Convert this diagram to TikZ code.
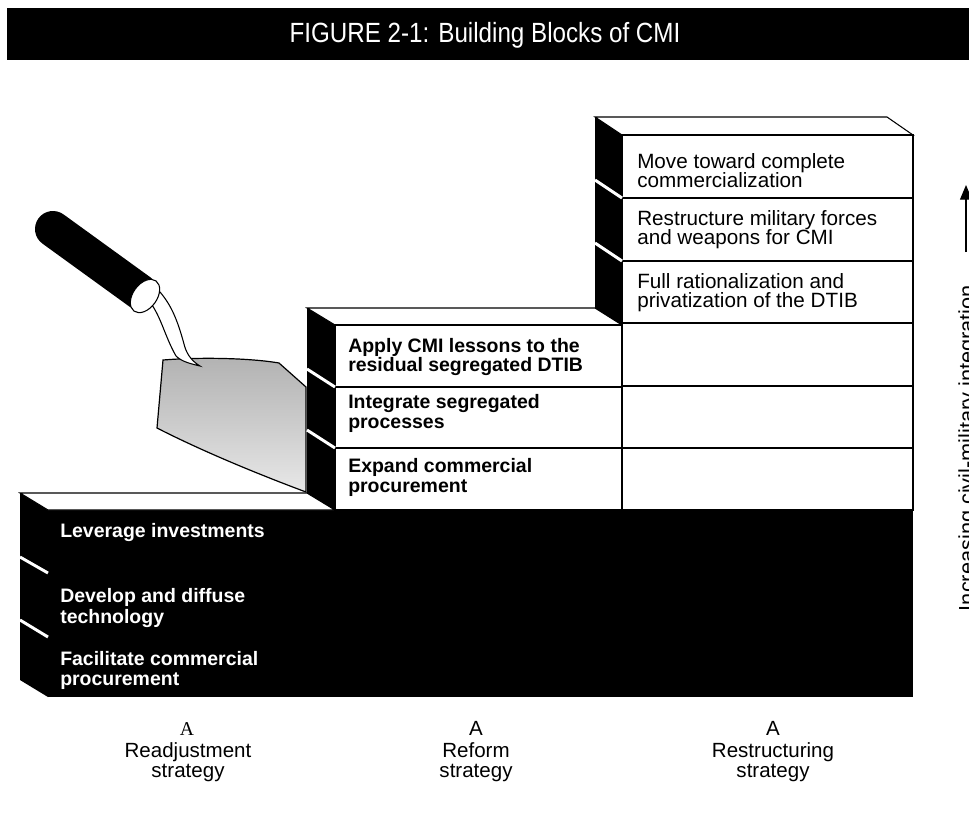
\documentclass[tikz,border=0pt]{standalone}
\usepackage{fontspec}
\setmainfont{Liberation Sans}
\newfontfamily\titlefnt{Liberation Sans}[FakeStretch=0.87]
\newfontfamily\seriffnt{Liberation Serif}
\usetikzlibrary{arrows.meta,shapes.geometric}
\begin{document}
\begin{tikzpicture}[x=0.75pt,y=-0.75pt,
  txt/.style={anchor=base west, inner sep=0pt},
  ctr/.style={anchor=base, inner sep=0pt},
  edge/.style={draw=black, line width=0.8pt},
  notch/.style={draw=white, line width=2.2pt},
  wtxt/.style={txt, text=white, font=\fontsize{14.6pt}{16pt}\selectfont\bfseries},
  btxt/.style={txt, font=\fontsize{14.6pt}{16pt}\selectfont\bfseries},
  rtxt/.style={txt, font=\fontsize{15.5pt}{17pt}\selectfont},
  lbl/.style={ctr, font=\fontsize{15.4pt}{17pt}\selectfont},
]
\useasboundingbox (0,0) rectangle (969,826);
\fill[white] (0,0) rectangle (969,826);

% title bar
\fill[black] (7,8) rectangle (969,60);
\node[ctr, text=white, font=\titlefnt\fontsize{20.85pt}{22pt}\selectfont] (title) at (485,42) {FIGURE 2-1: Building Blocks of CMI};

% left (readjustment) block
\fill[black] (48,510) rectangle (913,697);
\fill[black] (20,493) -- (48,510) -- (48,697) -- (20,680) -- cycle;
\filldraw[fill=white, edge] (20,493) -- (307,493) -- (335,510) -- (48,510) -- cycle;
\draw[notch] (20,557) -- (48,573);
\draw[notch] (20,620) -- (48,637);

% trowel
\coordinate (handleA) at (53,229);
\coordinate (handleB) at (140,292);
\draw[line width=27pt, line cap=round, black] (handleA) -- (handleB);
\shadedraw[top color=gray!60, bottom color=gray!18, middle color=gray!40, draw=black, line width=0.9pt]
  (163,360) .. controls (200,357) and (250,358) .. (279,363) -- (306,387) -- (306,492)
  .. controls (255,473) and (200,450) .. (157,428) -- cycle;
\filldraw[fill=white, edge] (147,299) .. controls (160,312) and (164,335) .. (176,356)
  .. controls (182,362) and (192,364) .. (200,366)
  .. controls (190,360) and (186,352) .. (184,344)
  .. controls (178,322) and (172,306) .. (160,292) -- cycle;
\node[ellipse, draw=black, fill=white, line width=0.8pt, minimum width=18pt,
  minimum height=28pt, inner sep=0pt, rotate=-36] (ferrule) at (145,296) {};

% middle (reform) block
\fill[black] (307,308) -- (335,325) -- (335,510) -- (307,493) -- cycle;
\filldraw[fill=white, edge] (307,308) -- (595,308) -- (622,325) -- (335,325) -- cycle;
\filldraw[fill=white, edge] (335,325) rectangle (622,510);
\draw[edge] (335,387) -- (622,387);
\draw[edge] (335,448) -- (622,448);
\draw[notch] (307,369) -- (335,387);
\draw[notch] (307,430) -- (335,448);

% right (restructuring) block
\fill[black] (595,117) -- (622,135) -- (622,325) -- (595,308) -- cycle;
\filldraw[fill=white, edge] (595,117) -- (887,117) -- (913,135) -- (622,135) -- cycle;
\filldraw[fill=white, edge] (622,135) rectangle (913,510);
\foreach \yy in {198,261,323,386,448} \draw[edge] (622,\yy) -- (913,\yy);
\draw[notch] (595,180) -- (622,198);
\draw[notch] (595,243) -- (622,261);

% texts of the left block
\node[wtxt] (l1) at (60,537) {Leverage investments};
\node[wtxt] (l2a) at (60,602) {Develop and diffuse};
\node[wtxt] (l2b) at (60,623) {technology};
\node[wtxt] (l3a) at (60,665) {Facilitate commercial};
\node[wtxt] (l3b) at (60,685) {procurement};

% texts of the middle block
\node[btxt] (m1a) at (348,352) {Apply CMI lessons to the};
\node[btxt] (m1b) at (348,371) {residual segregated DTIB};
\node[btxt] (m2a) at (348,408) {Integrate segregated};
\node[btxt] (m2b) at (348,428) {processes};
\node[btxt] (m3a) at (348,472) {Expand commercial};
\node[btxt] (m3b) at (348,492) {procurement};

% texts of the right block
\node[rtxt] (r1a) at (637,168) {Move toward complete};
\node[rtxt] (r1b) at (637,187) {commercialization};
\node[rtxt] (r2a) at (637,225) {Restructure military forces};
\node[rtxt] (r2b) at (637,244) {and weapons for CMI};
\node[rtxt] (r3a) at (637,288) {Full rationalization and};
\node[rtxt] (r3b) at (637,307) {privatization of the DTIB};

% axis arrow
\coordinate (arrS) at (966,252);
\coordinate (arrE) at (966,185);
\draw[line width=0.8pt, -{Triangle[length=11pt,width=9pt]}] (arrS) -- (arrE);
\node[rotate=90, anchor=north, inner sep=0pt, font=\fontsize{16.3pt}{18pt}\selectfont] (axis) at (958,448) {Increasing civil-military integration};

% strategy labels
\node[ctr, font=\seriffnt\fontsize{14.7pt}{16pt}\selectfont] (a1) at (187,735) {A};
\node[lbl] (s1a) at (188,757) {Readjustment};
\node[lbl] (s1b) at (188,777) {strategy};
\node[lbl] (a2) at (476,735) {A};
\node[lbl] (s2a) at (476,757) {Reform};
\node[lbl] (s2b) at (476,777) {strategy};
\node[lbl] (a3) at (773,735) {A};
\node[lbl] (s3a) at (773,757) {Restructuring};
\node[lbl] (s3b) at (773,777) {strategy};
\end{tikzpicture}
\end{document}
